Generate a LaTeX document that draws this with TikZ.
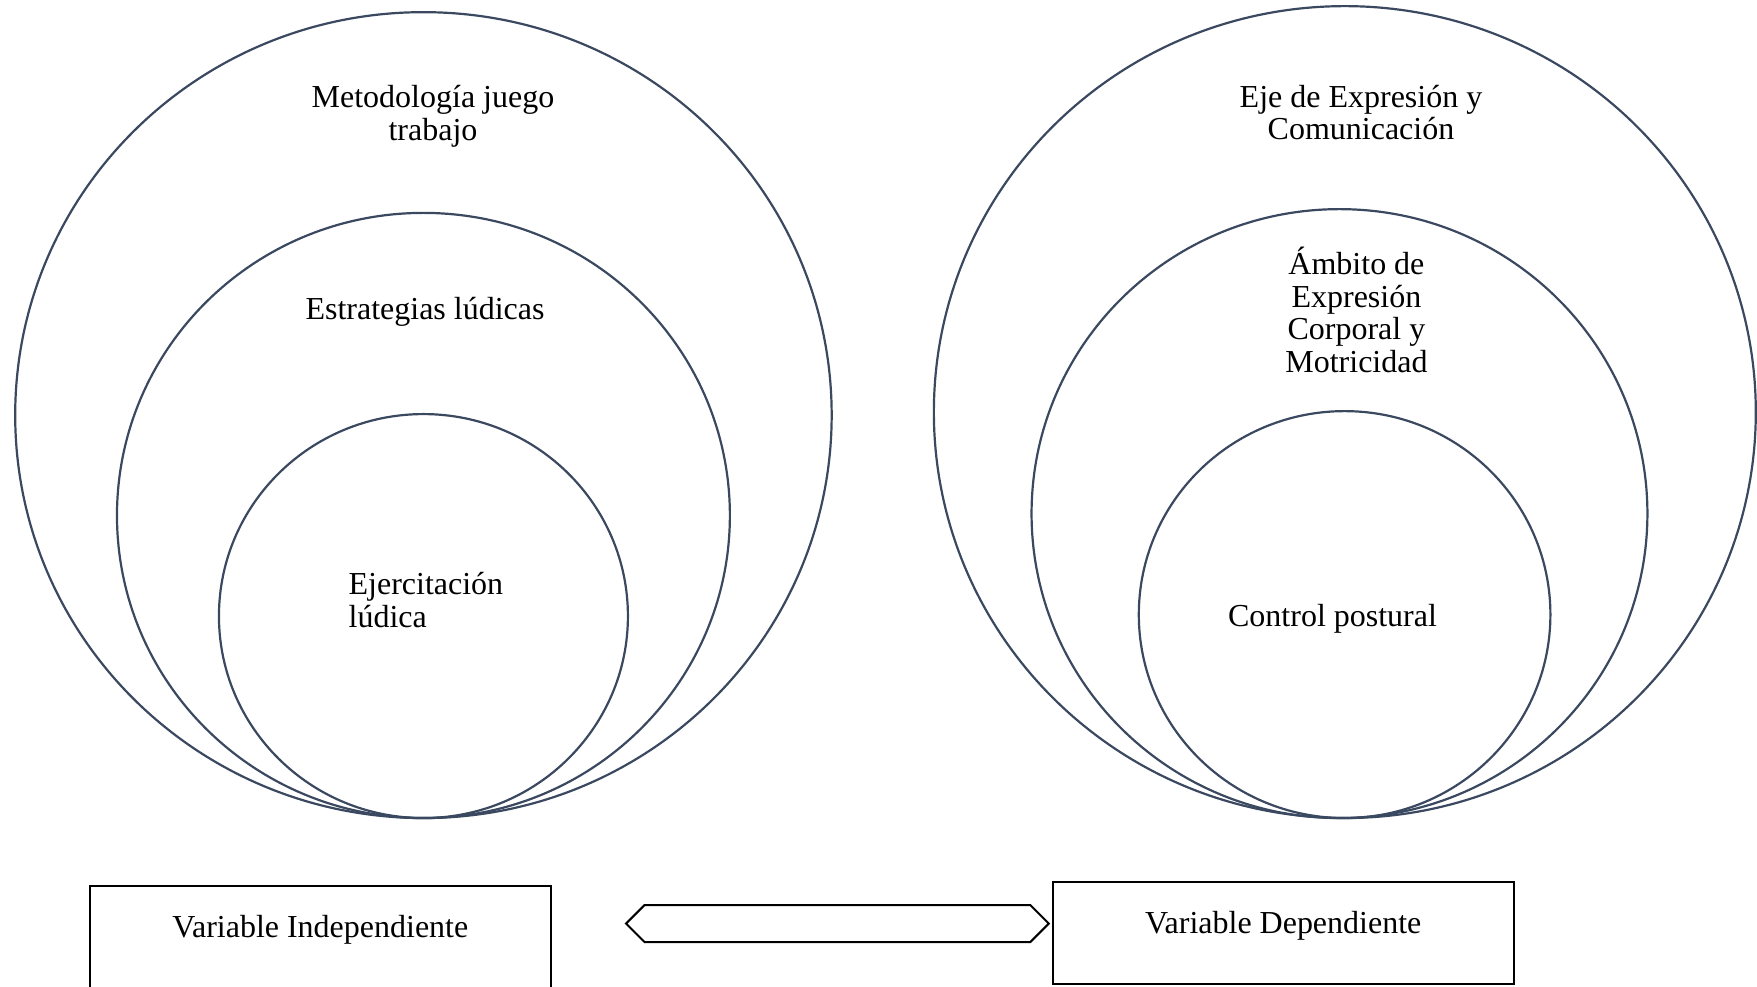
\documentclass[tikz,border=0pt]{standalone}
\usepackage{fontspec}
\setmainfont{Liberation Serif}
\usetikzlibrary{shapes.arrows}
\definecolor{ringline}{RGB}{58,72,96}
\tikzset{%
	ring/.style={draw=ringline,line width=1.1pt},
	lbl/.style={inner sep=0pt,align=center,font=\fontsize{16}{16.3}\selectfont},
	varbox/.style={draw,line width=1pt,inner sep=0pt,minimum width=8.1cm,text height=25.6pt,text depth=25.4pt,font=\fontsize{16}{16.3}\selectfont},
	relarrow/.style={draw,line width=1pt,double arrow,double arrow head extend=0pt,double arrow tip angle=90,inner sep=0pt,minimum height=7.43cm,minimum width=0.65cm},
}

\begin{document}
\begin{tikzpicture}
	\useasboundingbox (0,0) rectangle (30.88,17.33);
	\clip (0,0) rectangle (30.88,17.33);
	
	%variable independiente
	\draw[ring] (7.442,10.034) ellipse (7.175 and 7.082);
	\draw[ring] (7.442,8.270) ellipse (5.386 and 5.318);
	\draw[ring] (7.442,6.502) ellipse (3.594 and 3.550);
	\node[lbl] (metod) at (7.61,15.29) {Metodología juego\\trabajo};
	\node[lbl] (estrat) at (7.47,11.85) {Estrategias lúdicas};
	\node[lbl,anchor=west,align=left] (ejerc) at (6.12,6.78) {Ejercitación\\lúdica};
	
	%variable dependiente
	\draw[ring] (23.636,10.087) ellipse (7.223 and 7.135);
	\draw[ring] (23.542,8.303) ellipse (5.412 and 5.351);
	\draw[ring] (23.632,6.528) ellipse (3.617 and 3.576);
	\node[lbl] (eje) at (23.92,15.35) {Eje de Expresión y\\Comunicación};
	\node[lbl] (ambito) at (23.84,11.88) {Ámbito de\\Expresión\\Corporal y\\Motricidad};
	\node[lbl] (control) at (23.42,6.46) {Control postural};
	
	%recuadros
	\node[varbox] (vind) at (5.631,0.856) {Variable Independiente};
	\node[varbox] (vdep) at (22.553,0.933) {Variable Dependiente};
	\node[relarrow] (rel) at (14.718,1.098) {};
\end{tikzpicture}
\end{document}
